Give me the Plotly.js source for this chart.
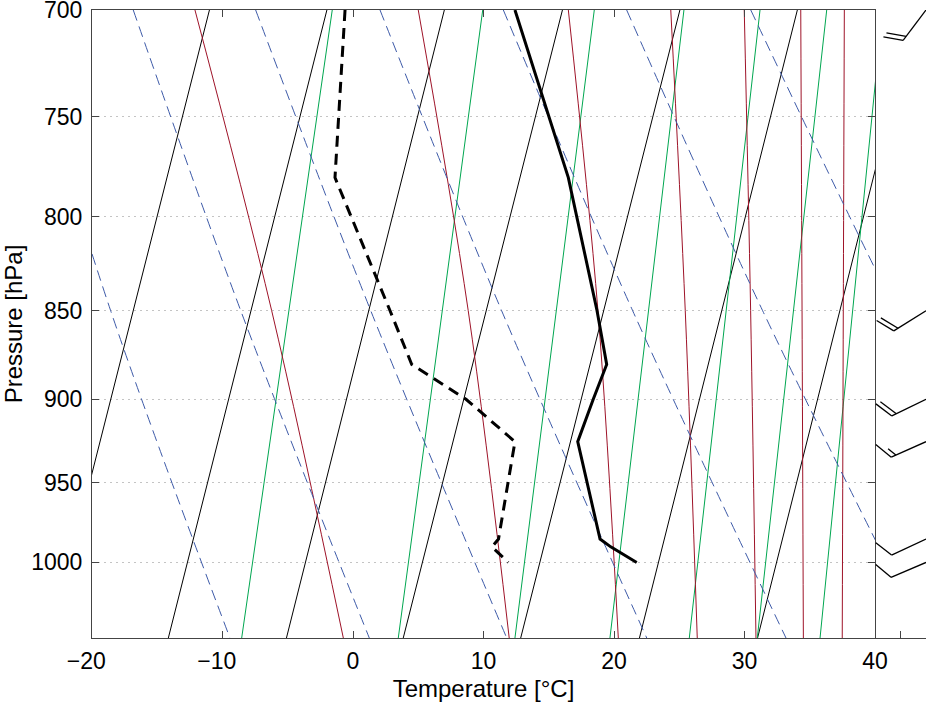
<!DOCTYPE html>
<html>
<head>
<meta charset="utf-8">
<script src="https://cdn.plot.ly/plotly-3.0.1.min.js"></script>
<style>html,body{margin:0;padding:0;background:#fff}</style>
</head>
<body>
<div id="skewt" style="width:926px;height:712px"></div>
<script>
var pTop = 700, pMid = 850, pBot = 1050;

// isotherms: axis position at the bottom (1050) and top (700) of the chart
var isoBot = [-23.2, -14.15, -5.1, 3.85, 12.85, 21.95, 31.0];
var isoTop = [-11.0, -2.0, 7.0, 16.05, 25.05, 34.05, 43.1];

// saturation mixing ratio lines
var mixBot = [-8.53, 3.47, 12.41, 19.69, 25.77, 30.98, 35.79];
var mixTop = [-1.59, 9.94, 18.49, 25.36, 31.19, 36.3, 40.58];

// dry adiabats, at 700 / 850 / 1050 hPa
var dryTop = [-25.7, -16.84, -7.46, 2.07, 11.52, 20.97, 30.48];
var dryMid = [-18.57, -8.6, 1.36, 11.39, 21.43, 31.39, 41.6];
var dryBot = [-9.43, 1.25, 11.78, 22.51, 33.18, 43.81, 54.6];

// moist adiabats, at 700 / 850 / 1050 hPa
var moistTop = [-12.11, 5.0, 16.5, 24.35, 29.98, 34.31, 37.65];
var moistMid = [-6.23, 8.83, 18.77, 25.46, 30.47, 34.41, 37.57];
var moistBot = [-0.74, 11.97, 20.33, 26.38, 30.88, 34.51, 37.49];

// sounding
var pres = [700, 780, 850, 880, 900, 925, 985, 990, 1000];
var temp = [12.41, 16.5, 18.7, 19.44, 18.41, 17.22, 18.93, 19.75, 21.74];
var dewp = [-0.61, -1.38, 2.84, 4.5, 8.66, 12.41, 11.15, 10.65, 11.9];

// winds
var windP = [700, 850, 900, 925, 985, 1000];
var windDir = [217, 238, 244, 246, 245, 247];
var windKt = [20, 20, 20, 15, 10, 10];

var pTicks = [700, 750, 800, 850, 900, 950, 1000];
var tTicks = [-20, -10, 0, 10, 20, 30, 40];
var tLabels = ['\u221220\u2002', '\u221210\u2002', '0', '10', '20', '30', '40'];

// page geometry
var W = 926, H = 712, ML = 92, MT = 10, MB = 74;
var plotW = W - ML, plotH = H - MT - MB;
var mainW = 783;
var x2Range = [0, 2.04];
var pxPerX2 = (plotW - mainW) / (x2Range[1] - x2Range[0]);
var pxPerDec = plotH / (Math.log10(pBot) - Math.log10(pTop));
var yRange = [Math.log10(pBot), Math.log10(pTop) - 1e-6];

function family(cols, ps) {
  var x = [], y = [];
  for (var i = 0; i < cols[0].length; i++) {
    for (var k = 0; k < ps.length; k++) { x.push(cols[k][i]); y.push(ps[k]); }
    x.push(null); y.push(null);
  }
  return {x: x, y: y};
}

function bgTrace(f, color, dash, shape) {
  return {x: f.x, y: f.y, type: 'scatter', mode: 'lines', hoverinfo: 'skip',
    line: {color: color, width: 1, dash: dash || 'solid', shape: shape || 'linear'}};
}

var iso = family([isoBot, isoTop], [pBot, pTop]);
var mix = family([mixBot, mixTop], [pBot, pTop]);
var dry = family([dryTop, dryMid, dryBot], [pTop, pMid, pBot]);
var moist = family([moistTop, moistMid, moistBot], [pTop, pMid, pBot]);

// wind barbs, built in pixels then mapped onto the x2 / y2 axes
var station = 2.04, staffLen = 38, barbLen = 20, barbGap = 5;
var rot = -117 * Math.PI / 180;
var bx = [], by = [];
function pt(p0, dx, dy) {
  bx.push(station + dx / pxPerX2);
  by.push(p0 * Math.pow(10, dy / pxPerDec));
}
for (var i = 0; i < windP.length; i++) {
  var d = windDir[i] * Math.PI / 180;
  var sx = Math.sin(d), sy = -Math.cos(d);
  var ux = -sx, uy = -sy;
  var fx = ux * Math.cos(rot) - uy * Math.sin(rot);
  var fy = ux * Math.sin(rot) + uy * Math.cos(rot);
  var baseX = sx * staffLen, baseY = sy * staffLen;
  pt(windP[i], 0, 0); pt(windP[i], baseX, baseY);
  bx.push(null); by.push(null);
  var full = Math.floor(windKt[i] / 10);
  var half = (windKt[i] % 10) >= 5 ? 1 : 0;
  for (var k = 0; k < full + half; k++) {
    var len = k < full ? barbLen : barbLen / 2;
    var ox = baseX + ux * barbGap * k, oy = baseY + uy * barbGap * k;
    pt(windP[i], ox, oy); pt(windP[i], ox + fx * len, oy + fy * len);
    bx.push(null); by.push(null);
  }
}

var data = [
  bgTrace(iso, '#000000'),
  bgTrace(mix, '#00a650'),
  bgTrace(moist, '#9e1328', 'solid', 'spline'),
  bgTrace(dry, '#3d5aa8', '11px,6px', 'spline'),
  {x: dewp, y: pres, type: 'scatter', mode: 'lines', hoverinfo: 'skip',
    line: {color: '#000', width: 3, dash: '11px,7px'}},
  {x: temp, y: pres, type: 'scatter', mode: 'lines', hoverinfo: 'skip',
    line: {color: '#000', width: 3}},
  {x: bx, y: by, xaxis: 'x2', yaxis: 'y2', type: 'scatter', mode: 'lines',
    hoverinfo: 'skip', line: {color: '#000', width: 1.3}}
];

var axLine = '#444';
var tickFont = {family: 'Liberation Sans, Arial, sans-serif', size: 23, color: '#000'};
var titleFont = {family: 'Liberation Sans, Arial, sans-serif', size: 24, color: '#000'};
var layout = {
  width: W, height: H,
  margin: {l: ML, r: 0, t: MT, b: MB, pad: 0},
  paper_bgcolor: '#fff', plot_bgcolor: '#fff',
  showlegend: false,
  font: tickFont,
  xaxis: {
    domain: [0, mainW / plotW], range: [-20, 40], tickvals: tTicks, ticktext: tLabels,
    tickfont: tickFont,
    ticks: 'inside', ticklen: 7, tickcolor: axLine, showline: true, linecolor: axLine,
    mirror: 'ticks', showgrid: false, zeroline: false, ticklabelstandoff: 2,
    ticklabeloverflow: 'allow',
    title: {text: 'Temperature [°C]', font: titleFont, standoff: 7}
  },
  yaxis: {
    type: 'log', range: yRange,
    tickvals: pTicks, ticktext: pTicks.map(String), tickfont: tickFont,
    ticks: 'inside', ticklen: 7, tickcolor: axLine, showline: true, linecolor: axLine,
    mirror: 'ticks', showgrid: true, gridcolor: '#c4c4c4', griddash: '2px,4px',
    zeroline: false, ticklabelstandoff: 4, ticklabeloverflow: 'allow',
    title: {text: 'Pressure [hPa]', font: titleFont, standoff: 7}
  },
  xaxis2: {
    domain: [mainW / plotW, 1], range: x2Range, anchor: 'y2', tickvals: [1, 2],
    showticklabels: false, ticks: 'inside', ticklen: 7, tickcolor: axLine,
    showline: true, linecolor: axLine, showgrid: false, zeroline: false
  },
  yaxis2: {
    type: 'log', range: yRange, anchor: 'x2', visible: false
  }
};

Plotly.newPlot('skewt', data, layout, {staticPlot: true});
</script>
</body>
</html>
